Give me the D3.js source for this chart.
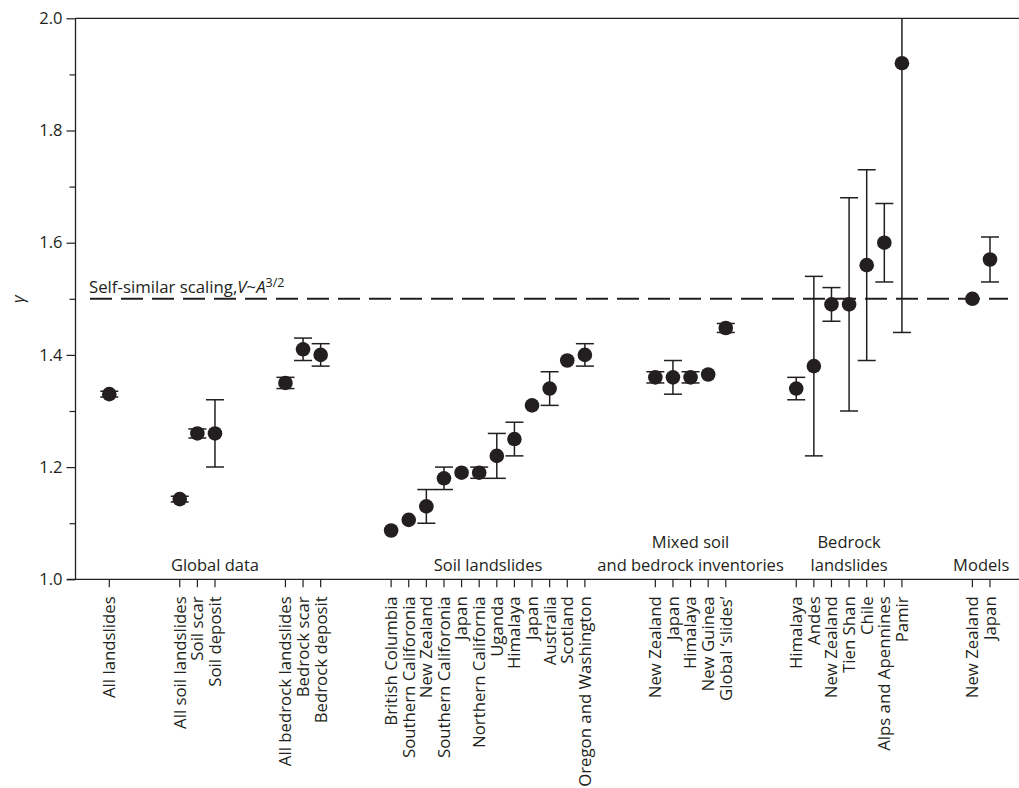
<!DOCTYPE html>
<html>
<head>
<meta charset="utf-8">
<script src="https://cdn.jsdelivr.net/npm/d3@7"></script>
<style>
  html, body { margin: 0; padding: 0; background: #fff; }
  svg text { font-family: "Open Sans", "Noto Sans", sans-serif; fill: #231f20; }
</style>
</head>
<body>
<svg id="chart" width="1019" height="788"></svg>
<script>
// ---------------- data ----------------
const categories = [
  "All landslides",
  "All soil landslides", "Soil scar", "Soil deposit",
  "All bedrock landslides", "Bedrock scar", "Bedrock deposit",
  "British Columbia", "Southern Califoronia", "New Zealand", "Southern Califoronia", "Japan",
  "Northern California", "Uganda", "Himalaya", "Japan", "Australia", "Scotland", "Oregon and Washington",
  "New Zealand", "Japan", "Himalaya", "New Guinea", "Global \u2018slides\u2019",
  "Himalaya", "Andes", "New Zealand", "Tien Shan", "Chile", "Alps and Apennines", "Pamir",
  "New Zealand", "Japan"
];
// number of categories in each consecutive cluster (clusters separated by empty slots)
const clusterSizes = [1, 3, 3, 12, 5, 7, 2];

const gammaValues = [
  1.330,
  1.143, 1.260, 1.260,
  1.350, 1.410, 1.400,
  1.087, 1.106, 1.130, 1.180, 1.190, 1.190, 1.220, 1.250, 1.310, 1.340, 1.390, 1.400,
  1.360, 1.360, 1.360, 1.365, 1.448,
  1.340, 1.380, 1.490, 1.490, 1.560, 1.600, 1.920,
  1.500, 1.570
];
const errorLow = [
  1.325,
  1.138, 1.252, 1.200,
  1.340, 1.390, 1.380,
  null, null, 1.100, 1.160, null, 1.180, 1.180, 1.220, null, 1.310, null, 1.380,
  1.350, 1.330, 1.350, null, 1.440,
  1.320, 1.220, 1.460, 1.300, 1.390, 1.530, 1.440,
  null, 1.530
];
const errorHigh = [
  1.335,
  1.148, 1.268, 1.320,
  1.360, 1.430, 1.420,
  null, null, 1.160, 1.200, null, 1.200, 1.260, 1.280, null, 1.370, null, 1.420,
  1.370, 1.390, 1.370, null, 1.456,
  1.360, 1.540, 1.520, 1.680, 1.730, 1.670, 2.400,
  null, 1.610
];

const groupLabels = [
  { lines: ["Global data"], from: 0, to: 6 },
  { lines: ["Soil landslides"], from: 7, to: 18 },
  { lines: ["Mixed soil", "and bedrock inventories"], from: 19, to: 23 },
  { lines: ["Bedrock", "landslides"], from: 24, to: 30 },
  { lines: ["Models"], from: 31, to: 32 }
];

const yTicksMajor = [1.0, 1.2, 1.4, 1.6, 1.8, 2.0];
const yTicksMinor = [1.1, 1.3, 1.5, 1.7, 1.9];
const referenceValue = 1.5;

// ---------------- layout ----------------
const slotGap = 3;
const slots = [];
{
  let s = 0;
  clusterSizes.forEach((n) => {
    for (let k = 0; k < n; k++) slots.push(s++);
    s += slotGap;
  });
}
const lastSlot = slots[slots.length - 1];

const svg = d3.select("#chart");
const W = 1019, H = 788;
const axisX = 75.5, topY = 18.3, bottomY = 579.3;

const x = d3.scaleLinear().domain([0, lastSlot]).range([109.3, 990]);
const y = d3.scaleLinear().domain([1, 2]).range([bottomY, topY]);

const ink = "#231f20";
const labelSize = 16.8;

svg.append("defs").append("clipPath").attr("id", "plotClip")
  .append("rect").attr("x", axisX).attr("y", topY).attr("width", W - axisX).attr("height", bottomY - topY);

// ---- y axis ----
const yAxis = d3.axisLeft(y).tickValues(yTicksMajor).tickFormat(d3.format(".1f")).tickSize(9).tickPadding(4);
const gy = svg.append("g").attr("transform", `translate(${axisX},0)`).call(yAxis);
gy.select(".domain").remove();
gy.selectAll(".tick line").attr("stroke", ink).attr("stroke-width", 1.2);
gy.selectAll(".tick text").attr("font-size", 16.5).attr("fill", ink)
  .style("font-family", "'Open Sans', sans-serif");
const yAxisMinor = d3.axisLeft(y).tickValues(yTicksMinor).tickFormat("").tickSize(6);
const gym = svg.append("g").attr("transform", `translate(${axisX},0)`).call(yAxisMinor);
gym.select(".domain").remove();
gym.selectAll(".tick line").attr("stroke", ink).attr("stroke-width", 1.2);

svg.append("line").attr("x1", axisX).attr("x2", axisX).attr("y1", topY).attr("y2", bottomY)
  .attr("stroke", ink).attr("stroke-width", 1.3);
// top frame line
svg.append("line").attr("x1", axisX).attr("x2", W).attr("y1", y(2)).attr("y2", y(2))
  .attr("stroke", ink).attr("stroke-width", 1.3);

// ---- x axis ----
const gx = svg.append("g").attr("transform", `translate(0,${bottomY})`);
gx.append("line").attr("x1", 67).attr("x2", W).attr("y1", 0).attr("y2", 0)
  .attr("stroke", ink).attr("stroke-width", 1.3);
const xt = gx.selectAll("g.xtick").data(categories).join("g").attr("class", "xtick")
  .attr("transform", (d, i) => `translate(${x(slots[i])},0)`);
xt.append("line").attr("y1", 0).attr("y2", 8).attr("stroke", ink).attr("stroke-width", 1.2);
xt.append("text")
  .attr("transform", "translate(0,17) rotate(-90)")
  .attr("text-anchor", "end")
  .attr("dy", "0.35em")
  .attr("font-size", labelSize)
  .text(d => d);

// y axis title
svg.append("text")
  .attr("transform", "translate(18,299) rotate(-90)")
  .attr("text-anchor", "middle")
  .attr("dy", "0.35em")
  .attr("font-size", 17)
  .attr("font-style", "italic")
  .text("\u03b3");

// ---- reference line ----
svg.append("line")
  .attr("x1", 90).attr("x2", 1008)
  .attr("y1", y(referenceValue)).attr("y2", y(referenceValue))
  .attr("stroke", ink).attr("stroke-width", 2).attr("stroke-dasharray", "22,9");

const refLabel = svg.append("text").attr("x", 89).attr("y", y(referenceValue) - 6).attr("font-size", 16.8);
refLabel.append("tspan").text("Self-similar scaling,");
refLabel.append("tspan").attr("font-style", "italic").text("V");
refLabel.append("tspan").text("~");
refLabel.append("tspan").attr("font-style", "italic").text("A");
refLabel.append("tspan").attr("font-size", 12.5).attr("dy", -6).text("3/2");

// ---- group labels ----
groupLabels.forEach(g => {
  const cx = (x(slots[g.from]) + x(slots[g.to])) / 2;
  const n = g.lines.length;
  g.lines.forEach((line, li) => {
    svg.append("text")
      .attr("x", cx)
      .attr("y", 571 - (n - 1 - li) * 23)
      .attr("text-anchor", "middle")
      .attr("font-size", 16.5)
      .text(line);
  });
});

// ---- error bars & points ----
const plot = svg.append("g").attr("clip-path", "url(#plotClip)");
const capHalf = 9;
const rows = categories.map((c, i) => ({ i, v: gammaValues[i], lo: errorLow[i], hi: errorHigh[i] }));
const withErr = rows.filter(r => r.lo != null && r.hi != null);

plot.selectAll("line.err").data(withErr).join("line").attr("class", "err")
  .attr("x1", r => x(slots[r.i])).attr("x2", r => x(slots[r.i]))
  .attr("y1", r => y(r.lo)).attr("y2", r => y(r.hi))
  .attr("stroke", ink).attr("stroke-width", 1.5);
plot.selectAll("line.capLo").data(withErr).join("line").attr("class", "capLo")
  .attr("x1", r => x(slots[r.i]) - capHalf).attr("x2", r => x(slots[r.i]) + capHalf)
  .attr("y1", r => y(r.lo)).attr("y2", r => y(r.lo))
  .attr("stroke", ink).attr("stroke-width", 1.5);
plot.selectAll("line.capHi").data(withErr).join("line").attr("class", "capHi")
  .attr("x1", r => x(slots[r.i]) - capHalf).attr("x2", r => x(slots[r.i]) + capHalf)
  .attr("y1", r => y(r.hi)).attr("y2", r => y(r.hi))
  .attr("stroke", ink).attr("stroke-width", 1.5);

plot.selectAll("circle.pt").data(rows).join("circle").attr("class", "pt")
  .attr("cx", r => x(slots[r.i])).attr("cy", r => y(r.v)).attr("r", 7.3)
  .attr("fill", ink);
</script>
</body>
</html>
